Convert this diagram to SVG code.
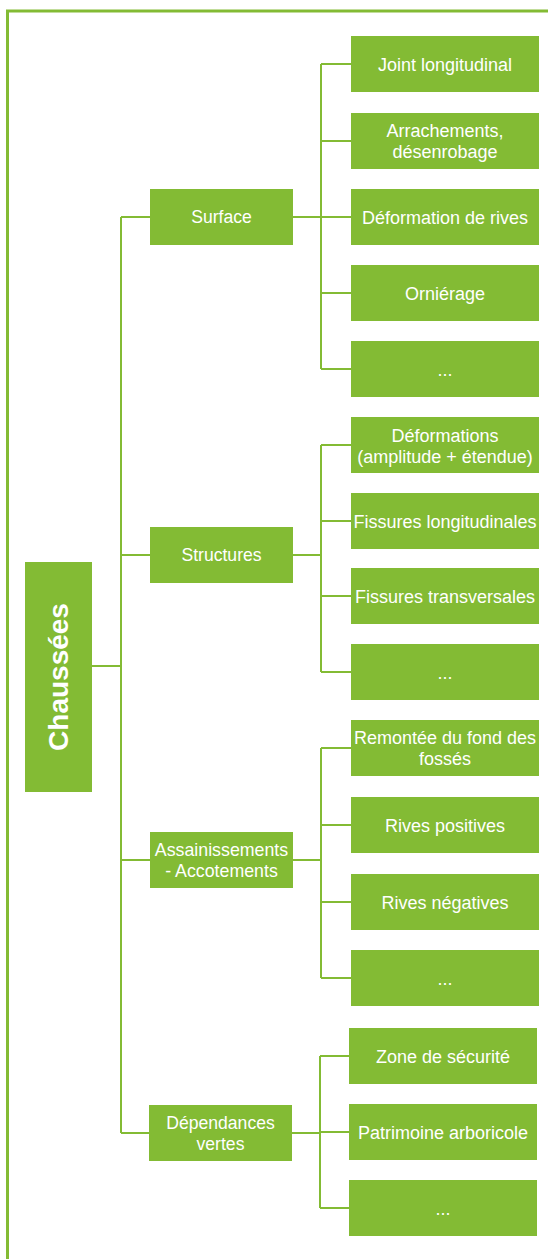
<svg xmlns="http://www.w3.org/2000/svg" width="548" height="1259" viewBox="0 0 548 1259">
  <style>
    .box { fill: #83BB34; }
    .lbl { fill: #ffffff; font-family: "Liberation Sans", Arial, sans-serif; text-anchor: middle; }
    .l1 { font-size: 17.6px; }
    .l1s { font-size: 17.8px; }
    .lf { font-size: 18px; }
    .root { font-size: 28px; font-weight: bold; }
    .wire { fill: none; stroke: #83BB34; stroke-width: 2; }
    .frame { fill: none; stroke: #83BB34; stroke-width: 3; }
  </style>

  <!-- outer frame, open to the right and bottom -->
  <path class="frame" d="M7.5,1262 V11 H552"/>

  <!-- connectors -->
  <g id="connectors">
    <!-- root to trunk -->
    <path class="wire" d="M92,666 H121 M121,217 V1133 M121,217 H150 M121,555 H150 M121,860 H150 M121,1133 H149"/>
    <!-- Surface -->
    <path class="wire" d="M293,217 H321 M321,64 V369 M321,64 H351 M321,141 H351 M321,217 H351 M321,293 H351 M321,369 H351"/>
    <!-- Structures -->
    <path class="wire" d="M293,555 H321 M321,445 V672 M321,445 H351 M321,521 H351 M321,596 H351 M321,672 H351"/>
    <!-- Assainissements - Accotements -->
    <path class="wire" d="M293,860 H321 M321,748 V978 M321,748 H351 M321,825 H351 M321,902 H351 M321,978 H351"/>
    <!-- Dépendances vertes -->
    <path class="wire" d="M292,1133 H320 M320,1056 V1208 M320,1056 H349 M320,1132 H349 M320,1208 H349"/>
  </g>

  <!-- root -->
  <g id="chaussees">
    <rect class="box" x="25" y="562" width="67" height="230"/>
    <text class="lbl root" transform="translate(68,677) rotate(-90)">Chaussées</text>
  </g>

  <!-- level 1 -->
  <g id="surface">
    <rect class="box" x="150" y="189" width="143" height="56"/>
    <text class="lbl l1" x="221.5" y="223.3">Surface</text>
  </g>
  <g id="structures">
    <rect class="box" x="150" y="527" width="143" height="56"/>
    <text class="lbl l1" x="221.5" y="561.3">Structures</text>
  </g>
  <g id="assainissements">
    <rect class="box" x="150" y="832" width="143" height="56"/>
    <text class="lbl l1s" x="221.5" y="856">Assainissements</text>
    <text class="lbl l1s" x="221.5" y="876.6">- Accotements</text>
  </g>
  <g id="dependances">
    <rect class="box" x="149" y="1105" width="143" height="56"/>
    <text class="lbl l1" x="220.5" y="1129">Dépendances</text>
    <text class="lbl l1" x="220.5" y="1149.8">vertes</text>
  </g>

  <!-- Surface leaves -->
  <g id="joint-longitudinal">
    <rect class="box" x="351" y="36" width="188" height="56"/>
    <text class="lbl lf" x="445" y="70.5">Joint longitudinal</text>
  </g>
  <g id="arrachements">
    <rect class="box" x="351" y="113" width="188" height="56"/>
    <text class="lbl lf" x="445" y="137.3">Arrachements,</text>
    <text class="lbl lf" x="445" y="158">désenrobage</text>
  </g>
  <g id="deformation-rives">
    <rect class="box" x="351" y="189" width="188" height="56"/>
    <text class="lbl lf" x="445" y="223.5">Déformation de rives</text>
  </g>
  <g id="ornierage">
    <rect class="box" x="351" y="265" width="188" height="56"/>
    <text class="lbl lf" x="445" y="299.5">Orniérage</text>
  </g>
  <g id="surface-etc">
    <rect class="box" x="351" y="341" width="188" height="56"/>
    <text class="lbl lf" x="445" y="375.5">...</text>
  </g>

  <!-- Structures leaves -->
  <g id="deformations">
    <rect class="box" x="351" y="417" width="188" height="56"/>
    <text class="lbl lf" x="445" y="441.7">Déformations</text>
    <text class="lbl lf" x="445" y="462.7">(amplitude + étendue)</text>
  </g>
  <g id="fissures-longitudinales">
    <rect class="box" x="351" y="493" width="188" height="56"/>
    <text class="lbl lf" x="445" y="527.5">Fissures longitudinales</text>
  </g>
  <g id="fissures-transversales">
    <rect class="box" x="351" y="568" width="188" height="56"/>
    <text class="lbl lf" x="445" y="602.5">Fissures transversales</text>
  </g>
  <g id="structures-etc">
    <rect class="box" x="351" y="644" width="188" height="56"/>
    <text class="lbl lf" x="445" y="678.5">...</text>
  </g>

  <!-- Assainissements leaves -->
  <g id="remontee">
    <rect class="box" x="351" y="720" width="188" height="56"/>
    <text class="lbl lf" x="445" y="744.3">Remontée du fond des</text>
    <text class="lbl lf" x="445" y="765.3">fossés</text>
  </g>
  <g id="rives-positives">
    <rect class="box" x="351" y="797" width="188" height="56"/>
    <text class="lbl lf" x="445" y="831.5">Rives positives</text>
  </g>
  <g id="rives-negatives">
    <rect class="box" x="351" y="874" width="188" height="56"/>
    <text class="lbl lf" x="445" y="908.5">Rives négatives</text>
  </g>
  <g id="assainissements-etc">
    <rect class="box" x="351" y="950" width="188" height="56"/>
    <text class="lbl lf" x="445" y="984.5">...</text>
  </g>

  <!-- Dépendances vertes leaves -->
  <g id="zone-securite">
    <rect class="box" x="349" y="1028" width="188" height="56"/>
    <text class="lbl lf" x="443" y="1062.5">Zone de sécurité</text>
  </g>
  <g id="patrimoine-arboricole">
    <rect class="box" x="349" y="1104" width="188" height="56"/>
    <text class="lbl lf" x="443" y="1138.5">Patrimoine arboricole</text>
  </g>
  <g id="dependances-etc">
    <rect class="box" x="349" y="1180" width="188" height="56"/>
    <text class="lbl lf" x="443" y="1214.5">...</text>
  </g>
</svg>
